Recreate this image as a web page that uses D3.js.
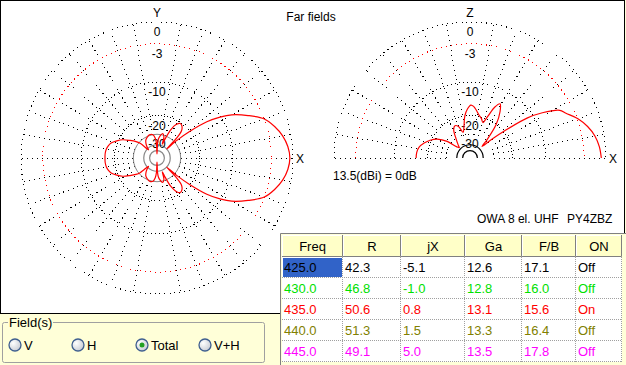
<!DOCTYPE html>
<html>
<head>
<meta charset="utf-8">
<title>Far fields</title>
<style>
  body { margin: 0; background: #ffffd8; }
  svg { display: block; font-family: "Liberation Sans", Arial, sans-serif; }
</style>
</head>
<body>
<script src="https://cdn.jsdelivr.net/npm/d3@7/dist/d3.min.js"></script>
<script>

// Azimuth (horizontal) pattern, degrees from +X toward Y, mirrored for the other half
var azAngles = [0, 5, 10, 15, 20, 25, 30, 33, 36, 39, 41.5, 43.5, 45.5, 48, 52, 56, 60, 64, 67, 69,
                72, 77, 82, 86, 88, 90, 92, 95, 100, 108, 115, 122, 128, 133, 136, 139, 142,
                147, 152, 157, 162, 166, 170, 175, 180];
var azDb     = [-0.4, -0.6, -1.1, -1.9, -3.0, -5.2, -7.8, -10.2, -13.6, -20, -28, -40, -27, -22.5, -20.8, -20.3, -21.5, -25, -32, -38,
                -31, -29, -31, -34, -39, -60, -39, -33, -30, -29.5, -30.5, -32, -35, -39, -42, -31, -28,
                -24.7, -21.5, -19.5, -17.8, -17.1, -16.7, -16.5, -16.5];

// Elevation (vertical) pattern, degrees above horizon from +X over Z to -X
var elAngles = [0, 5, 10, 15, 20, 25, 28, 32, 35, 38, 41, 44, 47, 52, 57, 61, 64, 67, 70, 74,
                78, 82, 86, 89, 93, 97, 101, 105, 110, 115, 120, 126, 132, 136, 140, 144,
                150, 156, 162, 168, 174, 180];
var elDb     = [-0.6, -0.8, -1.2, -1.9, -2.9, -4.3, -5.0, -8.0, -11.5, -19, -28, -36, -29, -20, -15.5, -13.5, -15, -19, -22, -20.5,
                -19.5, -18, -16.6, -16.2, -17.5, -20, -25, -28, -24, -23, -24.5, -30, -35, -38, -35, -27,
                -22, -19.5, -17.8, -16.5, -16, -15.9];

// Grid rings (dB) and tick labels
var ringDb = [0, -3, -10, -20, -30];
var ringLabels = ["0", "-3", "-10", "-20", "-30"];
var innerDb = [-40, -50];

// Frequency sweep table
var headers = ["Freq", "R", "jX", "Ga", "F/B", "ON"];
var freq = ["425.0", "430.0", "435.0", "440.0", "445.0"];
var resR = ["42.3", "46.8", "50.6", "51.3", "49.1"];
var reactX = ["-5.1", "-1.0", "0.8", "1.5", "5.0"];
var gain = ["12.6", "12.8", "13.1", "13.3", "13.5"];
var fb = ["17.1", "16.0", "15.6", "16.4", "17.8"];
var onOff = ["Off", "Off", "On", "Off", "Off"];
var rowColors = ["#000000", "#00e000", "#ff0000", "#808000", "#ff00ff"];

var fieldOptions = ["V", "H", "Total", "V+H"];
var fieldSelected = "Total";

var W = 626, H = 365, R0 = 136;

var svg = d3.select("body").append("svg")
    .attr("width", W)
    .attr("height", H);

// white plot panel
svg.append("rect")
    .attr("x", 0.5).attr("y", 0.5)
    .attr("width", 624).attr("height", 313)
    .attr("fill", "#fff")
    .attr("stroke", "#000");

// ARRL style log scale: r ~ (power ratio)^0.253
var rScale = d3.scalePow().exponent(0.253).domain([0, 1]).range([0, R0]);
function rad(db) { return rScale(Math.pow(10, db / 10)); }
var angScale = d3.scaleLinear().domain([0, 180]).range([0, Math.PI]);

function drawPolar(cx, cy, half, axisLabel, innerColor) {
    var g = svg.append("g");

    // spokes every 10 degrees
    var spokes = d3.range(0, half ? 190 : 360, 10).filter(function(a) { return a != 90 && a != 270; });
    g.selectAll(".spoke")
        .data(spokes)
        .enter().append("line")
        .attr("x1", function(a) { return cx + rad(-30) * Math.cos(angScale(a)); })
        .attr("y1", function(a) { return cy - rad(-30) * Math.sin(angScale(a)); })
        .attr("x2", function(a) { return cx + R0 * Math.cos(angScale(a)); })
        .attr("y2", function(a) { return cy - R0 * Math.sin(angScale(a)); })
        .attr("stroke", "#000")
        .attr("stroke-width", 1)
        .attr("stroke-dasharray", "1,4")
        .attr("shape-rendering", "crispEdges");

    function ringPath(r) {
        var p = d3.path();
        if (half) {
            p.moveTo(cx - r, cy);
            p.arc(cx, cy, r, Math.PI, 2 * Math.PI);
        } else {
            p.moveTo(cx + r, cy);
            p.arc(cx, cy, r, 0, 2 * Math.PI);
        }
        return p.toString();
    }

    // inner rings (-40, -50)
    g.selectAll(".inner")
        .data(innerDb)
        .enter().append("path")
        .attr("d", function(d) { return ringPath(rad(d)); })
        .attr("fill", "none")
        .attr("stroke", innerColor)
        .attr("stroke-width", 1.2);

    // main rings
    g.selectAll(".ring")
        .data(ringDb)
        .enter().append("path")
        .attr("d", function(d) { return ringPath(rad(d)); })
        .attr("fill", "none")
        .attr("stroke", function(d) { return d == -3 ? "#ff0000" : (d == -30 && !half ? "#888" : "#000"); })
        .attr("stroke-width", 1)
        .attr("shape-rendering", function(d) { return d == -30 && !half ? null : "crispEdges"; })
        .attr("stroke-dasharray", function(d) {
            if (d == -30 && !half) return null;
            return d == -20 ? "1,2" : (d == -10 ? "1,3" : "1,4");
        });

    // ring labels
    g.selectAll(".rlabel")
        .data(ringDb)
        .enter().append("text")
        .attr("x", cx)
        .attr("y", function(d) { return cy - rad(d) + 14; })
        .attr("text-anchor", "middle")
        .attr("font-size", 12)
        .text(function(d, i) { return ringLabels[i]; });

    g.append("text").attr("x", cx).attr("y", 17)
        .attr("text-anchor", "middle").attr("font-size", 12).text(axisLabel);
    g.append("text").attr("x", cx + 139).attr("y", cy + 5)
        .attr("font-size", 12).text("X");
    return g;
}

var line = function(cx, cy, closed) {
    return d3.line()
        .x(function(d) { return cx + rad(d.db) * Math.cos(angScale(d.a)); })
        .y(function(d) { return cy - rad(d.db) * Math.sin(angScale(d.a)); })
        .curve(closed ? d3.curveCatmullRomClosed.alpha(0.5) : d3.curveCatmullRom.alpha(0.5));
};

// left: azimuth plot
var lcx = 157, lcy = 158;
var gAz = drawPolar(lcx, lcy, false, "Y", "#888");
var azPts = azAngles.map(function(a, i) { return {a: a, db: azDb[i]}; });
var azLower = azPts.slice(1, -1).reverse().map(function(d) { return {a: 360 - d.a, db: d.db}; });
gAz.append("path")
    .datum(azPts.concat(azLower))
    .attr("d", line(lcx, lcy, true))
    .attr("fill", "none")
    .attr("stroke", "#ff0000")
    .attr("stroke-width", 1.2);

// right: elevation plot
var rcx = 470, rcy = 158;
var gEl = drawPolar(rcx, rcy, true, "Z", "#000");
gEl.append("path")
    .datum(elAngles.map(function(a, i) { return {a: a, db: elDb[i]}; }))
    .attr("d", line(rcx, rcy, false))
    .attr("fill", "none")
    .attr("stroke", "#ff0000")
    .attr("stroke-width", 1.2);

// captions
svg.append("text").attr("x", 311).attr("y", 21).attr("text-anchor", "middle")
    .attr("font-size", 12).text("Far fields");
svg.append("text").attr("x", 333).attr("y", 180).attr("font-size", 12)
    .text(gain[gain.length - 1] + "(dBi) = 0dB");
svg.append("text").attr("x", 477).attr("y", 223).attr("font-size", 12).text("OWA 8 el. UHF");
svg.append("text").attr("x", 567).attr("y", 223).attr("font-size", 12).text("PY4ZBZ");

// table
var colW = [61, 58, 64, 57, 54, 46];
var colX = [282];
colW.forEach(function(w, i) { colX.push(colX[i] + w); });
var tTop = 235, headH = 22, rowH = 21;
var columns = [freq, resR, reactX, gain, fb, onOff];

var tg = svg.append("g");
tg.append("rect").attr("x", 280).attr("y", 233).attr("width", 346).attr("height", 132).attr("fill", "#ffffd8");
tg.append("rect").attr("x", 282).attr("y", tTop + headH).attr("width", colX[6] - 282)
    .attr("height", rowH * 5).attr("fill", "#fff");
tg.append("path").attr("d", "M280.5,365V233.5H626").attr("fill", "none").attr("stroke", "#808080");

// header cells
headers.forEach(function(h, i) {
    tg.append("rect").attr("x", colX[i]).attr("y", tTop).attr("width", colW[i]).attr("height", headH)
        .attr("fill", "#ffffc8");
    tg.append("path")
        .attr("d", "M" + (colX[i] + 0.5) + "," + (tTop + headH - 1) + "V" + (tTop + 0.5) + "H" + (colX[i + 1] - 1))
        .attr("stroke", "#fff").attr("fill", "none");
    tg.append("path")
        .attr("d", "M" + colX[i] + "," + (tTop + headH - 0.5) + "H" + (colX[i + 1] - 0.5) + "V" + tTop)
        .attr("stroke", "#808080").attr("fill", "none");
    tg.append("text").attr("x", colX[i] + colW[i] / 2).attr("y", tTop + 16)
        .attr("text-anchor", "middle").attr("font-size", 13).text(h);
});

// selected cell
tg.append("rect").attr("x", colX[0] + 1).attr("y", tTop + headH + 1)
    .attr("width", colW[0] - 2).attr("height", rowH - 2).attr("fill", "#3163c8");

// grid lines
d3.range(1, 6).forEach(function(r) {
    tg.append("line").attr("x1", 282).attr("x2", colX[6])
        .attr("y1", tTop + headH + r * rowH - 0.5).attr("y2", tTop + headH + r * rowH - 0.5)
        .attr("stroke", "#a0a0a0").attr("stroke-dasharray", "1,1");
});
d3.range(1, 7).forEach(function(c) {
    tg.append("line").attr("x1", colX[c] - 0.5).attr("x2", colX[c] - 0.5)
        .attr("y1", tTop + headH).attr("y2", tTop + headH + 5 * rowH)
        .attr("stroke", "#a0a0a0").attr("stroke-dasharray", "1,1");
});

// cell texts
columns.forEach(function(col, c) {
    tg.selectAll(".c" + c)
        .data(col)
        .enter().append("text")
        .attr("x", colX[c] + 2)
        .attr("y", function(d, r) { return tTop + headH + r * rowH + 15; })
        .attr("font-size", 13)
        .attr("fill", function(d, r) { return rowColors[r]; })
        .text(function(d) { return d; });
});

// Field(s) group box
var fg = svg.append("g");
fg.append("rect").attr("x", 2.5).attr("y", 322.5).attr("width", 262).attr("height", 40)
    .attr("rx", 2).attr("fill", "none").attr("stroke", "#a0a0a0");
fg.append("rect").attr("x", 8).attr("y", 316).attr("width", 45).attr("height", 12).attr("fill", "#ffffd8");
fg.append("text").attr("x", 9).attr("y", 327).attr("font-size", 13).text("Field(s)");

var grad = svg.append("defs").append("radialGradient").attr("id", "rb")
    .attr("cx", "35%").attr("cy", "35%").attr("r", "70%");
grad.append("stop").attr("offset", "0%").attr("stop-color", "#ffffff");
grad.append("stop").attr("offset", "100%").attr("stop-color", "#c8ccd4");

var radioX = [15, 78, 142, 205];
fieldOptions.forEach(function(f, i) {
    fg.append("circle").attr("cx", radioX[i]).attr("cy", 345).attr("r", 6)
        .attr("fill", "url(#rb)").attr("stroke", "#3f5f8f").attr("stroke-width", 1.3);
    if (f == fieldSelected) {
        fg.append("circle").attr("cx", radioX[i]).attr("cy", 345).attr("r", 2.5).attr("fill", "#22a022");
    }
    fg.append("text").attr("x", radioX[i] + 9).attr("y", 350).attr("font-size", 13).text(f);
});

</script>
</body>
</html>
